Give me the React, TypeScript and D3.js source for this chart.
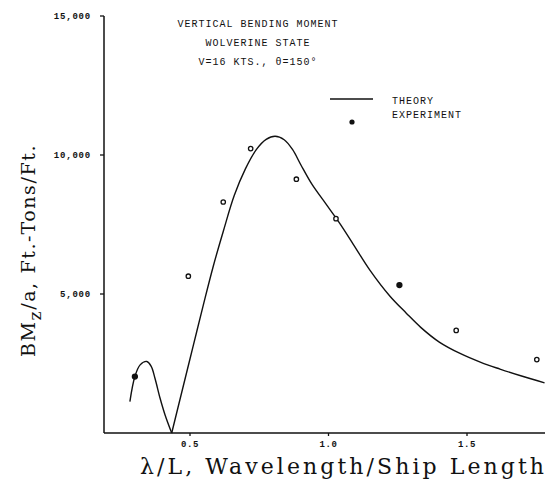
import React from "react";
import * as d3 from "d3";

const titleLines = ["VERTICAL BENDING MOMENT", "WOLVERINE STATE", "V=16 KTS., θ=150°"];
const legendLabels = ["THEORY", "EXPERIMENT"];

// Theory curve, first lobe (λ/L, BM/a)
const humpX = [0.283, 0.301, 0.32, 0.344, 0.36, 0.374, 0.392, 0.41, 0.434];
const humpY = [1130, 2030, 2450, 2574, 2400, 1950, 1250, 650, 0];

// Theory curve, main lobe
const mainX = [0.434, 0.476, 0.512, 0.548, 0.584, 0.62, 0.66, 0.7, 0.74, 0.775, 0.807, 0.84, 0.87, 0.9, 0.94, 0.99, 1.04, 1.09, 1.15, 1.222, 1.28, 1.333, 1.4, 1.475, 1.55, 1.619, 1.7, 1.78];
const mainY = [0, 1700, 3150, 4600, 6000, 7250, 8550, 9500, 10200, 10560, 10675, 10550, 10200, 9650, 8950, 8250, 7550, 6780, 5850, 4920, 4320, 3800, 3270, 2860, 2540, 2300, 2040, 1805];

// Experiment points
const expX = [0.301, 0.494, 0.62, 0.719, 0.884, 1.027, 1.256, 1.461, 1.752];
const expY = [2030, 5640, 8310, 10230, 9130, 7710, 5320, 3690, 2640];
const expFilled = [true, false, false, false, false, false, true, false, false];

const yTicks = [5000, 10000, 15000];
const yTickLabels = ["5,000", "10,000", "15,000"];
const xTicks = [0.5, 1.0, 1.5];
const xTickLabels = ["0.5", "1.0", "1.5"];

const W = 545;
const H = 483;
const MONO = "'Liberation Mono', 'DejaVu Sans Mono', monospace";
const SERIF = "'DejaVu Serif', 'Liberation Serif', serif";

export default function App() {
  const x = d3.scaleLinear().domain([0.5, 1.5]).range([190, 467]);
  const y = d3.scaleLinear().domain([0, 15000]).range([433, 16]);
  const x0 = x.invert(104);
  const x1 = x.invert(545);

  const line = d3
    .line<[number, number]>()
    .x((d) => x(d[0]))
    .y((d) => y(d[1]))
    .curve(d3.curveCatmullRom.alpha(0.5));

  const hump = humpX.map((v, i) => [v, humpY[i]] as [number, number]);
  const main = mainX.map((v, i) => [v, mainY[i]] as [number, number]);

  return (
    <svg
      width={W}
      height={H}
      style={{ position: "absolute", left: 0, top: 0, background: "#fff" }}
    >
      <rect width={W} height={H} fill="#fff" />
      {/* axes */}
      <line x1={x(x0)} x2={x(x0)} y1={y(15000)} y2={y(0)} stroke="#111" strokeWidth={1.5} />
      <line x1={x(x0)} x2={x(x1)} y1={y(0)} y2={y(0)} stroke="#111" strokeWidth={1.5} />
      {yTicks.map((t, i) => (
        <g key={"yt" + i}>
          <line x1={x(x0) - 4} x2={x(x0)} y1={y(t)} y2={y(t)} stroke="#111" strokeWidth={1.3} />
          <text
            x={x(x0) - 13}
            y={y(t) + 3}
            textAnchor="end"
            fontFamily={MONO}
            fontSize={9}
            fontWeight="bold"
            letterSpacing={0.8}
            fill="#111"
          >
            {yTickLabels[i]}
          </text>
        </g>
      ))}
      {xTicks.map((t, i) => (
        <g key={"xt" + i}>
          <line x1={x(t)} x2={x(t)} y1={y(0)} y2={y(0) + 3} stroke="#111" strokeWidth={1.3} />
          <text
            x={x(t)}
            y={447}
            textAnchor="middle"
            fontFamily={MONO}
            fontSize={9}
            fontWeight="bold"
            letterSpacing={0.6}
            fill="#111"
          >
            {xTickLabels[i]}
          </text>
        </g>
      ))}

      {/* theory */}
      <path d={line(hump) || ""} fill="none" stroke="#111" strokeWidth={1.4} />
      <path d={line(main) || ""} fill="none" stroke="#111" strokeWidth={1.4} />

      {/* experiment */}
      {expX.map((v, i) => (
        <circle
          key={"e" + i}
          cx={x(v)}
          cy={y(expY[i])}
          r={expFilled[i] ? 2.5 : 2.2}
          fill={expFilled[i] ? "#111" : "#fff"}
          stroke="#111"
          strokeWidth={1.3}
        />
      ))}

      {/* title */}
      {titleLines.map((s, i) => (
        <text
          key={"t" + i}
          x={258}
          y={27 + i * 19}
          textAnchor="middle"
          fontFamily={MONO}
          fontSize={10}
          letterSpacing={1}
          fill="#111"
        >
          {s}
        </text>
      ))}

      {/* legend */}
      <line x1={330} x2={373} y1={99} y2={99} stroke="#111" strokeWidth={1.3} />
      <circle cx={352} cy={122} r={2.6} fill="#111" />
      <text x={392} y={104} fontFamily={MONO} fontSize={10} letterSpacing={1} fill="#111">
        {legendLabels[0]}
      </text>
      <text x={392} y={118} fontFamily={MONO} fontSize={10} letterSpacing={1} fill="#111">
        {legendLabels[1]}
      </text>

      {/* axis titles */}
      <text
        x={140}
        y={474}
        fontFamily={SERIF}
        fontSize={22}
        textLength={404}
        lengthAdjust="spacing"
        fill="#111"
      >
        λ/L, Wavelength/Ship Length
      </text>
      <text
        transform="translate(35,357) rotate(-90)"
        fontFamily={SERIF}
        fontSize={19}
        letterSpacing={1.6}
        fill="#111"
      >
        BM
        <tspan dy={6} fontSize={17}>z</tspan>
        <tspan dy={-6}>/a, Ft.-Tons/Ft.</tspan>
      </text>
    </svg>
  );
}
